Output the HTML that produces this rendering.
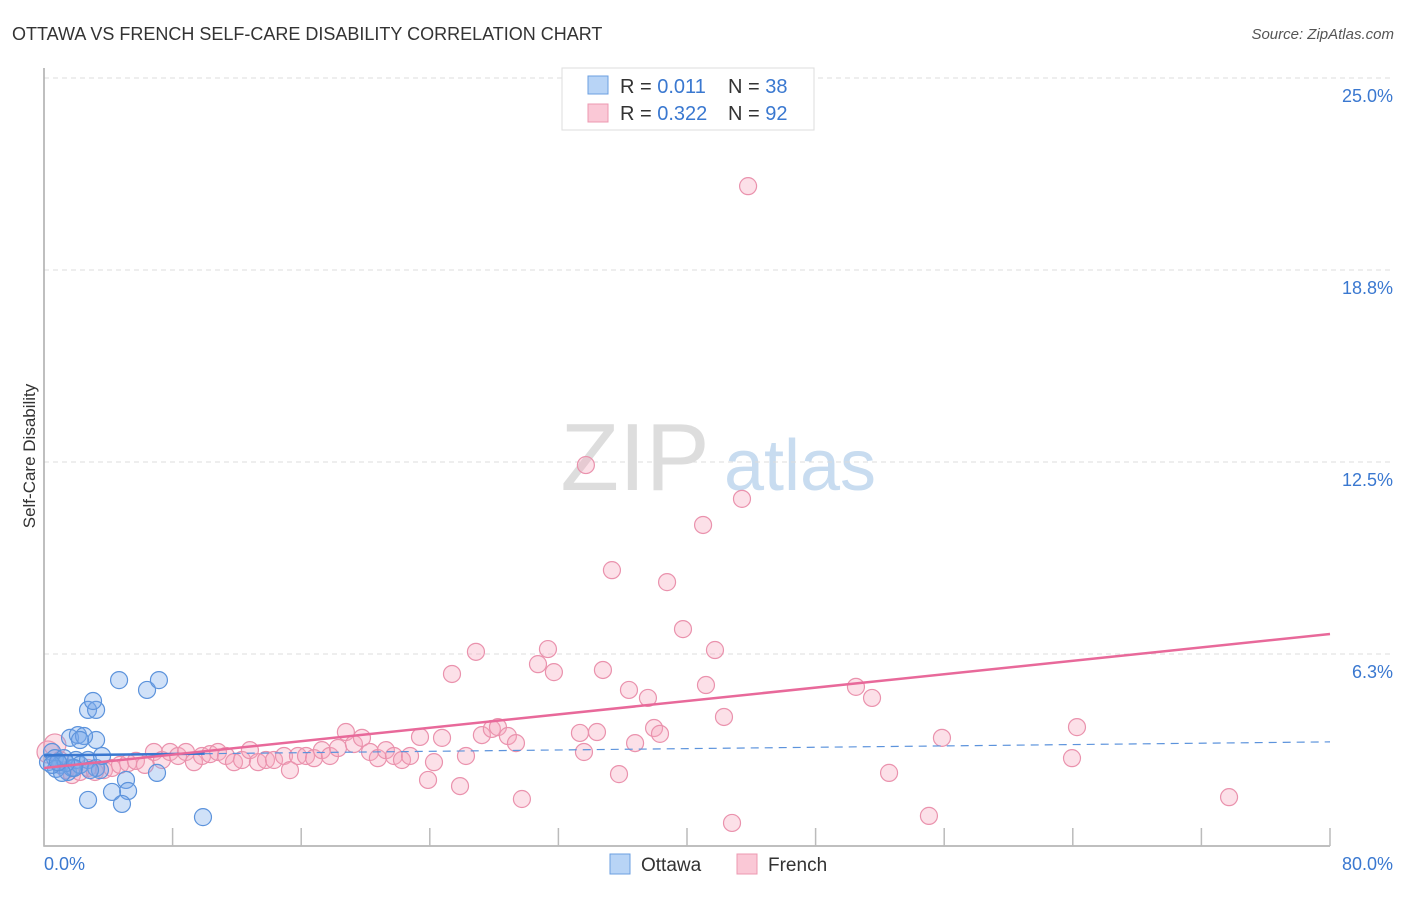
<!DOCTYPE html>
<html><head><meta charset="utf-8"><style>
body{margin:0;background:#fff;font-family:"Liberation Sans",sans-serif;}
svg text{font-family:"Liberation Sans",sans-serif;}
</style></head><body>
<svg id="c" width="1406" height="892" xmlns="http://www.w3.org/2000/svg">
<text x="12" y="40" font-size="18" fill="#333">OTTAWA VS FRENCH SELF-CARE DISABILITY CORRELATION CHART</text>
<text x="1394" y="39" font-size="15" fill="#555" font-style="italic" text-anchor="end">Source: ZipAtlas.com</text>
<text x="35" y="456" font-size="17" fill="#333" text-anchor="middle" transform="rotate(-90 35 456)">Self-Care Disability</text>
<g><text x="635" y="490" font-size="96" fill="#ddd" font-family="Liberation Serif" text-anchor="middle">ZIP</text><text x="800" y="490" font-size="72" fill="#c8dcf0" text-anchor="middle">atlas</text></g>
<g id="grid"></g><g id="axes"></g><g id="pts"></g><g id="trend"></g>
<g>
<rect x="562" y="68" width="252" height="62" fill="#fff" stroke="#ddd"/>
<rect x="588" y="76" width="20" height="18" fill="#b8d4f6" stroke="#6b9fe0"/>
<rect x="588" y="104" width="20" height="18" fill="#fac8d6" stroke="#ec98b0"/>
<text x="620" y="93" font-size="20" fill="#333">R = <tspan fill="#3a78d0"> 0.011</tspan></text>
<text x="728" y="93" font-size="20" fill="#333">N = <tspan fill="#3a78d0">38</tspan></text>
<text x="620" y="120" font-size="20" fill="#333">R = <tspan fill="#3a78d0">0.322</tspan></text>
<text x="728" y="120" font-size="20" fill="#333">N = <tspan fill="#3a78d0">92</tspan></text>
</g>
<g>
<rect x="610" y="854" width="20" height="20" fill="#b8d4f6" stroke="#6b9fe0"/>
<text x="641" y="871" font-size="19" fill="#333">Ottawa</text>
<rect x="737" y="854" width="20" height="20" fill="#fac8d6" stroke="#ec98b0"/>
<text x="768" y="871" font-size="19" fill="#333">French</text>
</g>
</svg>
<script>
const yTicks=[6.25,12.5,18.75,25];
const yTickLabels=["6.3%","12.5%","18.8%","25.0%"];
const xTicks=[0,8,16,24,32,40,48,56,64,72,80];
const ottawaX=[0.25,0.5,0.68,1,1.24,1.49,1.74,1.99,2.24,1.62,2.11,2.74,3.24,3.48,2.74,3.24,3.05,4.67,6.41,7.15,3.61,3.24,1.87,0.75,5.1,5.23,4.23,4.85,2.74,7.03,9.89,1.37,1.12,2.49,2.24,0.5,0.87,2.86];
const ottawaY=[2.73,3.06,2.86,2.64,2.86,2.41,2.54,2.8,2.64,3.52,3.61,2.8,2.54,2.47,4.43,4.43,4.72,5.4,5.08,5.4,2.93,3.45,2.54,2.51,2.15,1.79,1.76,1.37,1.5,2.38,0.94,2.7,2.38,3.58,3.45,2.64,2.73,2.47];
const frenchX=[0.25,0.68,1,1.37,1.74,2.24,2.74,3.17,3.73,4.23,4.73,5.23,5.72,6.28,6.84,7.34,7.84,8.34,8.83,9.33,9.83,10.33,10.82,11.32,11.82,12.32,12.81,13.31,13.81,14.31,14.93,15.3,15.8,16.3,16.8,17.29,17.79,18.29,18.78,19.28,19.78,20.28,20.77,21.27,21.77,22.27,22.77,23.39,23.89,24.26,24.76,25.38,25.88,26.25,26.87,27.24,27.86,28.24,28.86,29.36,29.73,30.73,31.35,31.72,33.34,33.59,33.71,34.4,34.77,35.33,35.77,36.39,36.77,37.57,37.95,38.32,38.76,39.75,41.0,41.18,41.74,42.3,42.8,43.42,43.8,50.51,51.51,52.57,55.05,55.86,63.95,64.26,73.72];
const frenchY=[3.06,3.29,2.8,2.47,2.31,2.41,2.54,2.41,2.47,2.54,2.64,2.7,2.77,2.64,3.06,2.8,3.06,2.93,3.06,2.73,2.93,2.99,3.06,2.93,2.73,2.8,3.12,2.73,2.8,2.8,2.93,2.47,2.93,2.93,2.86,3.12,2.93,3.19,3.71,3.32,3.52,3.06,2.86,3.12,2.93,2.8,2.93,3.55,2.15,2.73,3.52,5.6,1.95,2.93,6.32,3.61,3.81,3.87,3.58,3.35,1.53,5.92,6.41,5.66,3.68,3.06,12.4,3.71,5.73,8.98,2.34,5.08,3.35,4.82,3.84,3.65,8.59,7.06,10.45,5.24,6.38,4.2,0.75,11.3,21.48,5.18,4.82,2.38,0.98,3.52,2.86,3.87,1.59];
const ottawaTrend=[2.95,3.39];
const frenchTrend=[2.54,6.9];
const X=v=>44+v*(1286/80), Y=v=>846-v*30.72;
const NS="http://www.w3.org/2000/svg";
function mk(t,a,p){const e=document.createElementNS(NS,t);for(const k in a)e.setAttribute(k,a[k]);p.appendChild(e);return e;}
const grid=document.getElementById('grid'),axes=document.getElementById('axes'),pts=document.getElementById('pts'),tr=document.getElementById('trend');
yTicks.forEach((v,i)=>{
 const l=mk('line',{x1:44,x2:1394,y1:Y(v),y2:Y(v),stroke:'#ddd','stroke-dasharray':'5,4'},grid);
 
 
 const t=mk('text',{x:1393,y:Y(v)+24,'font-size':18,fill:'#3a78d0','text-anchor':'end'},axes);
 t.textContent=yTickLabels[i];
 
 
});
const ax=mk('path',{d:'M44 68 V846 H1330',fill:'none',stroke:'#aaa','stroke-width':1.5},axes);


xTicks.forEach(v=>{const t=mk('line',{x1:X(v),x2:X(v),y1:828,y2:846,stroke:'#bbb','stroke-width':1.5},axes);
 
 });
const xl0=mk('text',{x:44,y:870,'font-size':18,fill:'#3a78d0'},axes);xl0.textContent="0.0%";


const xl1=mk('text',{x:1393,y:870,'font-size':18,fill:'#3a78d0','text-anchor':'end'},axes);xl1.textContent="80.0%";


frenchX.forEach((v,i)=>{const c=mk('circle',{cx:X(v),cy:Y(frenchY[i]),r:i<2?11:8.5,fill:'rgba(246,165,190,0.35)',stroke:'#ea92ad','stroke-width':1.2},pts);
 
 });
ottawaX.forEach((v,i)=>{const c=mk('circle',{cx:X(v),cy:Y(ottawaY[i]),r:8.5,fill:'rgba(120,170,235,0.35)',stroke:'#5c93dc','stroke-width':1.2},pts);
 
 });
const bs=mk('line',{x1:X(0),y1:Y(ottawaTrend[0]),x2:X(10),y2:Y(ottawaTrend[0]+(ottawaTrend[1]-ottawaTrend[0])/8),stroke:'#3a78d0','stroke-width':2.5},tr);


const bd=mk('line',{x1:X(10),y1:Y(ottawaTrend[0]+(ottawaTrend[1]-ottawaTrend[0])/8),x2:X(80),y2:Y(ottawaTrend[1]),stroke:'#5c93dc','stroke-width':1.2,'stroke-dasharray':'8,6'},tr);


const pl=mk('line',{x1:X(0),y1:Y(frenchTrend[0]),x2:X(80),y2:Y(frenchTrend[1]),stroke:'#e8699a','stroke-width':2.5},tr);


</script>
</body></html>
